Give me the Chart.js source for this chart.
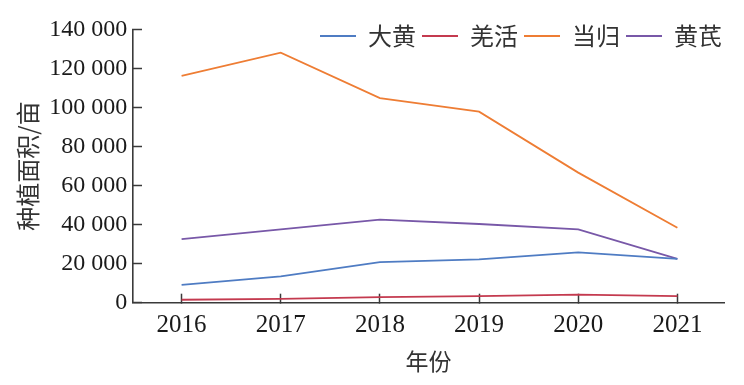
<!DOCTYPE html>
<html>
<head>
<meta charset="utf-8">
<script src="https://cdn.jsdelivr.net/npm/chart.js@4.4.1/dist/chart.umd.min.js"></script>
<style>
    html, body { margin: 0; padding: 0; background: #fff; }
    canvas { display: block; }
</style>
</head>
<body>
<canvas id="areaChart" width="744" height="385"></canvas>
<script>
// planting area per herb, 2016-2021 (mu)
const years = [2016, 2017, 2018, 2019, 2020, 2021];
const seriesNames = ["大黄", "羌活", "当归", "黄芪"];
const dahuang = [9100, 13500, 20800, 22200, 25800, 22400];
const qianghuo = [1500, 2000, 2900, 3400, 4100, 3400];
const danggui = [116100, 128000, 104800, 97800, 66600, 38400];
const huangqi = [32600, 37600, 42500, 40300, 37600, 22400];
const yTickLabels = ["0", "20 000", "40 000", "60 000", "80 000", "100 000", "120 000", "140 000"];

const lineColors = ["#4f7cc3", "#c43a4f", "#ee7d34", "#7858a8"];
const axisColor = "#3a3a3a";

function toPoints(values) {
    return years.map((yr, i) => ({ x: yr, y: values[i] }));
}

// keep the legend out of the layout and put it top right
const legendPlace = {
    id: "legendPlace",
    afterLayout(chart) {
        const lg = chart.legend;
        if (!lg) return;
        lg.top = 18;
        lg.height = 40;
        lg.bottom = lg.top + lg.height;
        lg.left = 290;
        lg.right = 728;
        lg.width = lg.right - lg.left;
    }
};

const ctx = document.getElementById("areaChart").getContext("2d");

new Chart(ctx, {
    type: "line",
    data: {
        datasets: [dahuang, qianghuo, danggui, huangqi].map((vals, i) => ({
            label: seriesNames[i],
            data: toPoints(vals),
            borderColor: lineColors[i],
            backgroundColor: lineColors[i],
            borderWidth: 1.8,
            pointRadius: 0,
            tension: 0,
            fill: false
        }))
    },
    options: {
        responsive: false,
        animation: false,
        layout: { padding: { left: 0, right: 20, top: 29.2, bottom: 0 } },
        plugins: {
            tooltip: { enabled: false },
            legend: {
                position: "top",
                align: "end",
                maxHeight: 0.1,
                labels: {
                    boxWidth: 36,
                    boxHeight: 0,
                    padding: 6,
                    color: "#333",
                    font: { family: "'Noto Sans CJK SC', sans-serif", size: 24 }
                }
            }
        },
        scales: {
            x: {
                type: "linear",
                min: 2015.51,
                max: 2021.47,
                afterFit(scale) { scale.height = 82.3; },
                border: { display: true, color: axisColor, width: 1.6 },
                grid: {
                    display: true,
                    drawOnChartArea: false,
                    drawTicks: true,
                    tickLength: -9,
                    tickWidth: 1.5,
                    tickColor: axisColor
                },
                ticks: {
                    stepSize: 1,
                    includeBounds: false,
                    padding: 16.8,
                    color: "#1a1a1a",
                    font: { family: "'Liberation Serif', serif", size: 25 },
                    callback: v => String(v)
                },
                title: {
                    display: true,
                    text: "年份",
                    color: "#333",
                    padding: { top: 0, bottom: 10 },
                    font: { family: "'Noto Sans CJK SC', sans-serif", size: 23 }
                }
            },
            y: {
                min: 0,
                max: 140000,
                afterFit(scale) { scale.width = 133; },
                border: { display: true, color: axisColor, width: 1.6 },
                grid: {
                    display: true,
                    drawOnChartArea: false,
                    drawTicks: true,
                    tickLength: -9,
                    tickWidth: 1.5,
                    tickColor: axisColor
                },
                ticks: {
                    stepSize: 20000,
                    padding: 14.7,
                    color: "#1a1a1a",
                    font: { family: "'Liberation Serif', serif", size: 24 },
                    callback: (v, i) => yTickLabels[i]
                },
                title: {
                    display: true,
                    text: "种植面积/亩",
                    color: "#333",
                    padding: { top: 13, bottom: 0 },
                    font: { family: "'Noto Sans CJK SC', sans-serif", size: 24 }
                }
            }
        }
    },
    plugins: [legendPlace]
});
</script>
</body>
</html>
